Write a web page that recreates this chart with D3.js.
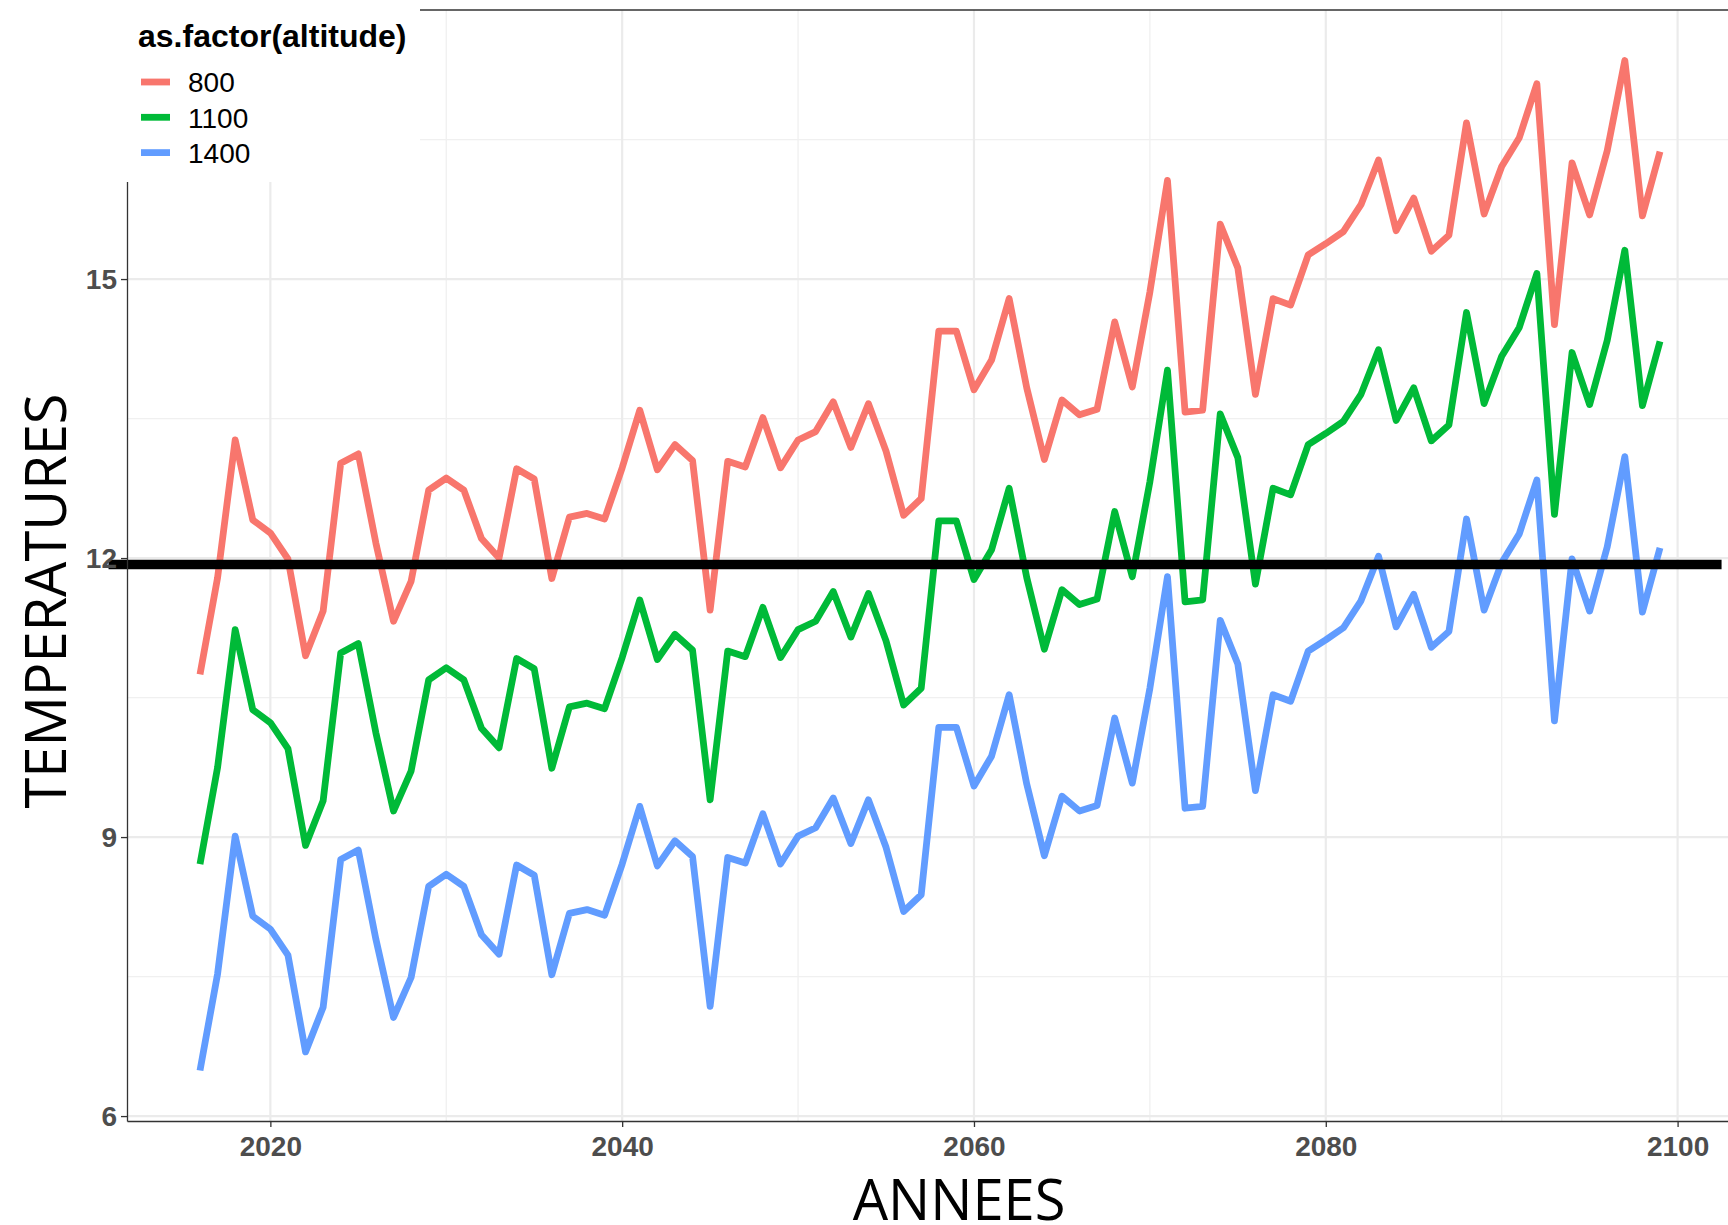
<!DOCTYPE html>
<html>
<head>
<meta charset="utf-8">
<script src="https://cdn.jsdelivr.net/npm/d3@7"></script>
<style>
  body { margin: 0; background: #fff; }
  .tick text { font-family: "Liberation Sans", Arial, sans-serif; font-weight: bold; font-size: 28px; fill: #4D4D4D; }
  .axis path, .axis line { stroke: #333; stroke-width: 1.3; }
</style>
</head>
<body>
<div id="my_dataviz"></div>
<script>
// data (one value per year, 2016 - 2099)
var years = d3.range(2016, 2100);
var altitudes = ["800", "1100", "1400"];
var colors = ["#F8766D", "#00BA38", "#619CFF"];

var temp800 = [10.75, 11.79, 13.27, 12.41, 12.27, 11.99, 10.95, 11.43, 13.02, 13.12,
  12.16, 11.32, 11.75, 12.73, 12.86, 12.73, 12.21, 12.00, 12.96, 12.85,
  11.78, 12.44, 12.48, 12.42, 12.97, 13.59, 12.95, 13.22, 13.05, 11.44,
  13.04, 12.98, 13.51, 12.97, 13.27, 13.36, 13.68, 13.19, 13.66, 13.15,
  12.46, 12.64, 14.44, 14.44, 13.81, 14.13, 14.79, 13.83, 13.06, 13.70,
  13.54, 13.60, 14.54, 13.84, 14.86, 16.06, 13.57, 13.59, 15.59, 15.12,
  13.76, 14.79, 14.72, 15.26, 15.38, 15.51, 15.80, 16.28, 15.52, 15.87,
  15.30, 15.47, 16.68, 15.70, 16.21, 16.52, 17.10, 14.51, 16.25, 15.69,
  16.38, 17.35, 15.68, 16.37];

var temp1100 = [8.71, 9.75, 11.23, 10.37, 10.23, 9.95, 8.91, 9.39, 10.98, 11.08,
  10.12, 9.28, 9.71, 10.69, 10.82, 10.69, 10.17, 9.96, 10.92, 10.81,
  9.74, 10.40, 10.44, 10.38, 10.93, 11.55, 10.91, 11.18, 11.01, 9.40,
  11.00, 10.94, 11.47, 10.93, 11.23, 11.32, 11.64, 11.15, 11.62, 11.11,
  10.42, 10.60, 12.40, 12.40, 11.77, 12.09, 12.75, 11.79, 11.02, 11.66,
  11.50, 11.56, 12.50, 11.80, 12.82, 14.02, 11.53, 11.55, 13.55, 13.08,
  11.72, 12.75, 12.68, 13.22, 13.34, 13.47, 13.76, 14.24, 13.48, 13.83,
  13.26, 13.43, 14.64, 13.66, 14.17, 14.48, 15.06, 12.47, 14.21, 13.65,
  14.34, 15.31, 13.64, 14.33];

var temp1400 = [6.49, 7.53, 9.01, 8.15, 8.01, 7.73, 6.69, 7.17, 8.76, 8.86,
  7.90, 7.06, 7.49, 8.47, 8.60, 8.47, 7.95, 7.74, 8.70, 8.59,
  7.52, 8.18, 8.22, 8.16, 8.71, 9.33, 8.69, 8.96, 8.79, 7.18,
  8.78, 8.72, 9.25, 8.71, 9.01, 9.10, 9.42, 8.93, 9.40, 8.89,
  8.20, 8.38, 10.18, 10.18, 9.55, 9.87, 10.53, 9.57, 8.80, 9.44,
  9.28, 9.34, 10.28, 9.58, 10.60, 11.80, 9.31, 9.33, 11.33, 10.86,
  9.50, 10.53, 10.46, 11.00, 11.12, 11.25, 11.54, 12.02, 11.26, 11.61,
  11.04, 11.21, 12.42, 11.44, 11.95, 12.26, 12.84, 10.25, 11.99, 11.43,
  12.12, 13.09, 11.42, 12.11];

var xTicks = [2020, 2040, 2060, 2080, 2100];
var xMinor = [2030, 2050, 2070, 2090];
var yTicks = [6, 9, 12, 15];
var yMinor = [7.5, 10.5, 13.5, 16.5];

// reference line
var refValue = 11.93;
var refYears = [2010.8, 2102.5];

var series = [temp800, temp1100, temp1400];

// dimensions of the panel
var W = 1728, H = 1225;
var panel = { left: 127, right: 1733, top: 10, bottom: 1121 };

var svg = d3.select("#my_dataviz")
  .append("svg")
    .attr("width", W)
    .attr("height", H);

/*********************
 * SCALES (ggplot style 5% expansion)
 *********************/
var xExt = d3.extent(years);
var xPad = (xExt[1] - xExt[0]) * 0.05;
var x = d3.scaleLinear()
    .domain([xExt[0] - xPad, xExt[1] + xPad])
    .range([panel.left, panel.right]);

var yExt = d3.extent(d3.merge(series));
var yPad = (yExt[1] - yExt[0]) * 0.05;
var y = d3.scaleLinear()
    .domain([yExt[0] - yPad, yExt[1] + yPad])
    .range([panel.bottom, panel.top]);

/*********************
 * GRIDLINES
 *********************/
var grid = svg.append("g");
grid.selectAll("xminor").data(xMinor).enter().append("line")
    .attr("x1", function (d) { return x(d); }).attr("x2", function (d) { return x(d); })
    .attr("y1", panel.top).attr("y2", panel.bottom)
    .style("stroke", "#F0F0F0").style("stroke-width", 1.3);
grid.selectAll("yminor").data(yMinor).enter().append("line")
    .attr("x1", panel.left).attr("x2", panel.right)
    .attr("y1", function (d) { return y(d); }).attr("y2", function (d) { return y(d); })
    .style("stroke", "#F0F0F0").style("stroke-width", 1.3);
grid.selectAll("xmajor").data(xTicks).enter().append("line")
    .attr("x1", function (d) { return x(d); }).attr("x2", function (d) { return x(d); })
    .attr("y1", panel.top).attr("y2", panel.bottom)
    .style("stroke", "#EBEBEB").style("stroke-width", 2.2);
grid.selectAll("ymajor").data(yTicks).enter().append("line")
    .attr("x1", panel.left).attr("x2", panel.right)
    .attr("y1", function (d) { return y(d); }).attr("y2", function (d) { return y(d); })
    .style("stroke", "#EBEBEB").style("stroke-width", 2.2);

/*********************
 * LINES
 *********************/
var line = d3.line()
    .x(function (d, i) { return x(years[i]); })
    .y(function (d) { return y(d); });

svg.selectAll("dataLines")
  .data(series)
  .enter()
  .append("path")
    .attr("d", function (d) { return line(d); })
    .style("fill", "none")
    .style("stroke", function (d, i) { return colors[i]; })
    .style("stroke-width", 6.8)
    .style("stroke-linejoin", "round");

// black horizontal line
svg.append("line")
    .attr("x1", x(refYears[0])).attr("x2", x(refYears[1]))
    .attr("y1", y(refValue)).attr("y2", y(refValue))
    .style("stroke", "#000")
    .style("stroke-width", 9.5);

/*********************
 * AXES
 *********************/
svg.append("g")
    .attr("class", "axis")
    .attr("transform", "translate(0," + panel.bottom + ")")
    .call(d3.axisBottom(x).tickValues(xTicks).tickFormat(d3.format("d"))
        .tickSize(6).tickSizeOuter(0).tickPadding(9));

svg.append("g")
    .attr("class", "axis")
    .attr("transform", "translate(" + panel.left + ",0)")
    .call(d3.axisLeft(y).tickValues(yTicks).tickFormat(d3.format("d"))
        .tickSize(6).tickSizeOuter(0).tickPadding(4));

// axis titles
svg.append("text")
    .attr("x", 959)
    .attr("y", 1220)
    .style("text-anchor", "middle")
    .style("font-family", "'Open Sans', sans-serif")
    .style("font-size", "56px")
    .style("fill", "#000")
    .text("ANNEES");

svg.append("text")
    .attr("transform", "translate(66,601) rotate(-90)")
    .style("text-anchor", "middle")
    .style("font-family", "'Open Sans', sans-serif")
    .style("font-size", "56px")
    .style("fill", "#000")
    .text("TEMPERATURES");

/*********************
 * LEGEND
 *********************/
svg.append("rect")
    .attr("x", 0).attr("y", 0)
    .attr("width", 420).attr("height", 182)
    .style("fill", "#fff");

svg.append("line")
    .attr("x1", 420).attr("x2", W)
    .attr("y1", panel.top).attr("y2", panel.top)
    .style("stroke", "#333").style("stroke-width", 1.3);

svg.append("text")
    .attr("x", 138)
    .attr("y", 47)
    .style("font-family", "'Liberation Sans', Arial, sans-serif")
    .style("font-weight", "bold")
    .style("font-size", "32px")
    .style("fill", "#000")
    .text("as.factor(altitude)");

svg.selectAll("legendKeys")
  .data(altitudes)
  .enter()
  .append("line")
    .attr("x1", 141).attr("x2", 170)
    .attr("y1", function (d, i) { return 82 + i * 35.3; })
    .attr("y2", function (d, i) { return 82 + i * 35.3; })
    .style("stroke", function (d, i) { return colors[i]; })
    .style("stroke-width", 6.8);

svg.selectAll("legendLabels")
  .data(altitudes)
  .enter()
  .append("text")
    .attr("x", 188)
    .attr("y", function (d, i) { return 92.3 + i * 35.3; })
    .style("font-family", "'Liberation Sans', Arial, sans-serif")
    .style("font-size", "28px")
    .style("fill", "#000")
    .text(function (d) { return d; });
</script>
</body>
</html>
